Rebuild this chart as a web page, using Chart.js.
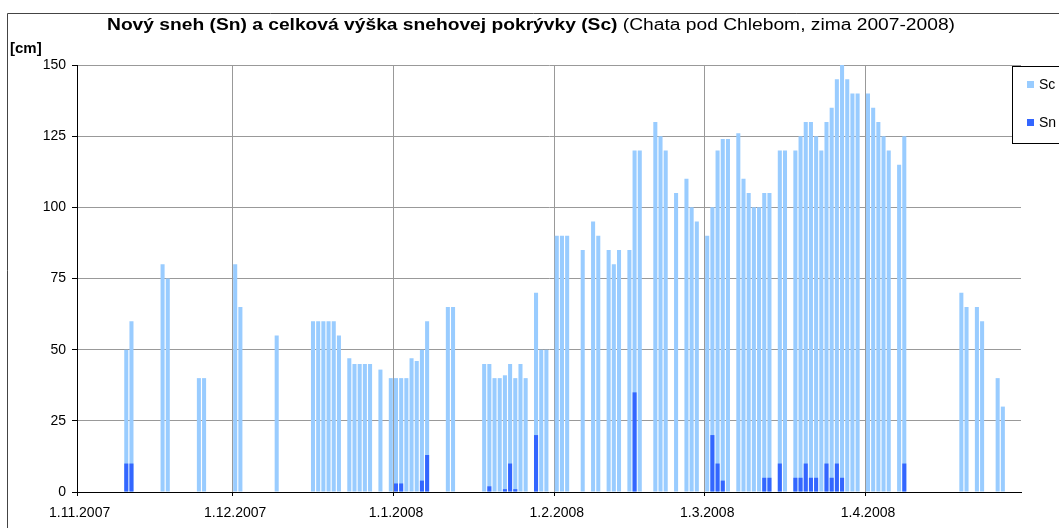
<!DOCTYPE html>
<html>
<head>
<meta charset="utf-8">
<title>Nový sneh a celková výška snehovej pokrývky</title>
<script src="https://cdn.jsdelivr.net/npm/chart.js"></script>
<style>
  body { margin: 0; background: #fff; }
  #wrap { width: 1059px; height: 528px; position: relative; }
</style>
</head>
<body>
<div id="wrap"><canvas id="chart"></canvas></div>
<script>
// season runs 1.11.2007 - 30.4.2008, one category per day
const seasonStart = new Date(2007, 10, 1);
const seasonDays = 182;

// celkova vyska snehovej pokryvky (Sc)
const scDates = [
  '10.11.2007','11.11.2007','17.11.2007','18.11.2007','24.11.2007','25.11.2007',
  '1.12.2007','2.12.2007','9.12.2007','16.12.2007','17.12.2007','18.12.2007','19.12.2007','20.12.2007',
  '21.12.2007','23.12.2007','24.12.2007','25.12.2007','26.12.2007','27.12.2007','29.12.2007','31.12.2007',
  '1.1.2008','2.1.2008','3.1.2008','4.1.2008','5.1.2008','6.1.2008','7.1.2008','11.1.2008','12.1.2008',
  '18.1.2008','19.1.2008','20.1.2008','21.1.2008','22.1.2008','23.1.2008','24.1.2008','25.1.2008',
  '26.1.2008','28.1.2008','29.1.2008','30.1.2008',
  '1.2.2008','2.2.2008','3.2.2008','6.2.2008','8.2.2008','9.2.2008','11.2.2008','12.2.2008','13.2.2008',
  '15.2.2008','16.2.2008','17.2.2008','20.2.2008','21.2.2008','22.2.2008','24.2.2008','26.2.2008',
  '27.2.2008','28.2.2008',
  '1.3.2008','2.3.2008','3.3.2008','4.3.2008','5.3.2008','7.3.2008','8.3.2008','9.3.2008','10.3.2008',
  '11.3.2008','12.3.2008','13.3.2008','15.3.2008','16.3.2008','18.3.2008','19.3.2008','20.3.2008',
  '21.3.2008','22.3.2008','23.3.2008','24.3.2008','25.3.2008','26.3.2008','27.3.2008','28.3.2008',
  '29.3.2008','30.3.2008',
  '1.4.2008','2.4.2008','3.4.2008','4.4.2008','5.4.2008','7.4.2008','8.4.2008','19.4.2008','20.4.2008',
  '22.4.2008','23.4.2008','26.4.2008','27.4.2008'
];
const scValues = [
  50, 60, 80, 75, 40, 40,
  80, 65, 55, 60, 60, 60, 60, 60, 55, 47, 45, 45, 45, 45, 43, 40,
  40, 40, 40, 47, 46, 50, 60, 65, 65, 45, 45, 40, 40, 41, 45, 40, 45, 40, 70, 50, 50,
  90, 90, 90, 85, 95, 90, 85, 80, 85, 85, 120, 120, 130, 125, 120, 105, 110, 100, 95,
  90, 100, 120, 124, 124, 126, 110, 105, 100, 100, 105, 105, 120, 120, 120, 125, 130, 130,
  125, 120, 130, 135, 145, 150, 145, 140, 140,
  140, 135, 130, 125, 120, 115, 125, 70, 65, 65, 60, 40, 30
];

// novy sneh (Sn)
const snDates = [
  '10.11.2007','11.11.2007','1.1.2008','2.1.2008','6.1.2008','7.1.2008','19.1.2008','22.1.2008',
  '23.1.2008','24.1.2008','28.1.2008','16.2.2008','2.3.2008','3.3.2008','4.3.2008','12.3.2008',
  '13.3.2008','15.3.2008','18.3.2008','19.3.2008','20.3.2008','21.3.2008','22.3.2008','24.3.2008',
  '25.3.2008','26.3.2008','27.3.2008','8.4.2008'
];
const snValues = [10, 10, 3, 3, 4, 13, 2, 1, 10, 1, 20, 35, 20, 10, 4, 5, 5, 10, 5, 5, 10, 5, 5, 10, 5, 10, 5, 10];

const yTicks = [0, 25, 50, 75, 100, 125, 150];

const labels = [];
for (let i = 0; i < seasonDays; i++) {
  const d = new Date(seasonStart.getFullYear(), seasonStart.getMonth(), seasonStart.getDate() + i);
  labels.push(d.getDate() + '.' + (d.getMonth() + 1) + '.' + d.getFullYear());
}

function byDay(dates, values) {
  return labels.map(l => {
    const k = dates.indexOf(l);
    return k < 0 ? null : values[k];
  });
}

const FONT = "'Liberation Sans', Arial, sans-serif";
Chart.defaults.font.family = FONT;
Chart.defaults.color = '#000';

const isMonthStart = i => i < labels.length && labels[i].startsWith('1.');

const frame = {
  id: 'frame',
  beforeDraw(chart) {
    const ctx = chart.ctx;
    ctx.save();
    ctx.fillStyle = '#fff';
    ctx.fillRect(0, 0, chart.width, chart.height);
    ctx.strokeStyle = '#444';
    ctx.lineWidth = 1;
    ctx.beginPath();
    ctx.moveTo(7.5, chart.height);
    ctx.lineTo(7.5, 13.5);
    ctx.lineTo(chart.width, 13.5);
    ctx.stroke();
    ctx.restore();
  },
  afterDraw(chart) {
    const ctx = chart.ctx;
    ctx.save();
    // title: bold part + normal part, squeezed horizontally like the original
    const bold = 'Nový sneh (Sn) a celková výška snehovej pokrývky (Sc)';
    const norm = ' (Chata pod Chlebom, zima 2007-2008)';
    ctx.font = 'bold 16px ' + FONT;
    const wb = ctx.measureText(bold).width;
    ctx.font = '16px ' + FONT;
    const wn = ctx.measureText(norm).width;
    const sx = (955 - 107) / (wb + wn);
    ctx.translate(107, 30);
    ctx.scale(sx, 1);
    ctx.fillStyle = '#000';
    ctx.textBaseline = 'alphabetic';
    ctx.textAlign = 'left';
    ctx.font = 'bold 16px ' + FONT;
    ctx.fillText(bold, 0, 0);
    ctx.font = '16px ' + FONT;
    ctx.fillText(norm, wb, 0);
    ctx.restore();

    // unit label
    ctx.save();
    ctx.font = 'bold 15px ' + FONT;
    ctx.fillStyle = '#000';
    ctx.textBaseline = 'alphabetic';
    ctx.fillText('[cm]', 10, 53);
    ctx.restore();

    // legend box, cut by the right edge
    ctx.save();
    ctx.fillStyle = '#fff';
    ctx.fillRect(1012, 66, 60, 78);
    ctx.strokeStyle = '#000';
    ctx.lineWidth = 1;
    ctx.strokeRect(1012.5, 66.5, 60, 77);
    ctx.font = '14px ' + FONT;
    ctx.textBaseline = 'middle';
    const rows = [chart.data.datasets[0], chart.data.datasets[1]];
    rows.forEach((ds, k) => {
      const cy = 85 + k * 38;
      ctx.fillStyle = ds.backgroundColor;
      ctx.fillRect(1027, cy - 4, 7, 7);
      ctx.fillStyle = '#000';
      ctx.fillText(ds.label, 1039, cy);
    });
    ctx.restore();
  }
};

new Chart(document.getElementById('chart'), {
  type: 'bar',
  data: {
    labels: labels,
    datasets: [
      {
        label: 'Sc',
        data: byDay(scDates, scValues),
        backgroundColor: '#99ccff',
        order: 1,
        grouped: false,
        barPercentage: 0.78,
        categoryPercentage: 1
      },
      {
        label: 'Sn',
        data: byDay(snDates, snValues),
        backgroundColor: '#3366ff',
        order: 0,
        grouped: false,
        barPercentage: 0.78,
        categoryPercentage: 1
      }
    ]
  },
  options: {
    responsive: true,
    maintainAspectRatio: false,
    animation: false,
    layout: { padding: { top: 65, right: 38, left: 0, bottom: 0 } },
    plugins: {
      legend: { display: false },
      tooltip: { enabled: false },
      title: { display: false }
    },
    scales: {
      x: {
        offset: true,
        grid: {
          offset: true,
          color: c => c.index === 0 ? 'rgba(0,0,0,0)' : (c.index >= labels.length || isMonthStart(c.index)) ? '#999' : 'rgba(0,0,0,0)',
          tickColor: c => (c.index >= labels.length || isMonthStart(c.index)) ? '#000' : 'rgba(0,0,0,0)',
          tickLength: 4
        },
        border: { color: '#000' },
        ticks: {
          autoSkip: false,
          maxRotation: 0,
          minRotation: 0,
          padding: 9,
          font: { size: 14 },
          callback: function (v) {
            const l = this.getLabelForValue(v);
            return l.startsWith('1.') ? l : '';
          }
        },
        afterFit: s => { s.height = 36; }
      },
      y: {
        min: yTicks[0],
        max: yTicks[yTicks.length - 1],
        afterBuildTicks: s => { s.ticks = yTicks.map(v => ({ value: v })); },
        grid: { color: '#999', tickColor: '#000', tickLength: 5 },
        border: { color: '#000' },
        ticks: { padding: 6, font: { size: 14 } },
        afterFit: s => { s.width = 77; }
      }
    }
  },
  plugins: [frame]
});
</script>
</body>
</html>
